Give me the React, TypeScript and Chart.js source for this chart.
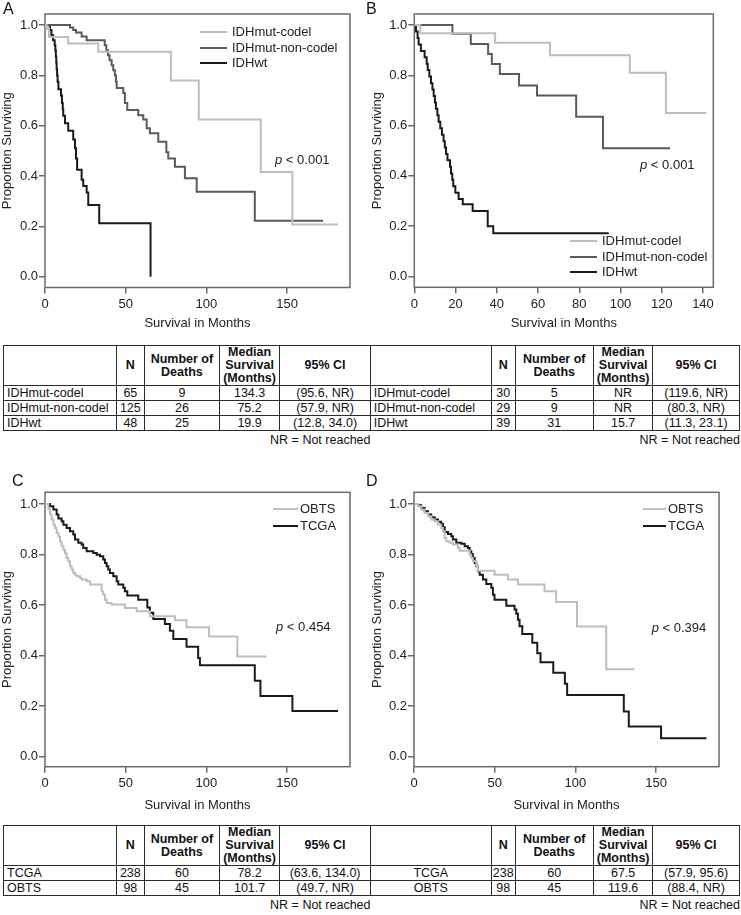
import React, { useEffect, useRef } from "react";
import { Chart, registerables } from "chart.js";
Chart.register(...registerables);

const FONT = '"Liberation Sans", Arial, Helvetica, sans-serif';
const LIGHT = "#bdbdbd";
const DARK = "#5a5a5a";
const BLACK = "#1a1a1a";
const AXIS = "#6a6a6a";
const TEXT = "#222222";

// ---------- Panel A (months, survival) ----------
const A_codel: number[][] = [[0,1],[1,0.985],[2.5,0.953],[14.4,0.927],[33,0.894],[78,0.78],[95.3,0.625],[133.7,0.416],[153.3,0.207],[181.6,0.207]];
const A_noncodel: number[][] = [[0,1],[15.5,0.99],[17.5,0.98],[19.2,0.97],[22.7,0.955],[25.8,0.94],[37,0.92],[38,0.9],[39,0.88],[40,0.86],[41.3,0.84],[42.3,0.82],[43.3,0.8],[44,0.775],[44.4,0.75],[48.5,0.73],[49.5,0.69],[51,0.662],[57.8,0.642],[60.9,0.625],[63,0.59],[65,0.57],[70.2,0.536],[75.2,0.495],[76.4,0.47],[80.5,0.437],[86.7,0.391],[94,0.338],[130,0.222],[172.3,0.222]];
const A_wt: number[][] = [[0,1],[3,0.98],[4,0.96],[5,0.94],[6,0.92],[6.4,0.9],[6.7,0.875],[7,0.85],[7.2,0.825],[7.5,0.8],[7.8,0.775],[8.3,0.745],[9.9,0.72],[10.5,0.69],[11,0.665],[11.3,0.64],[12.4,0.61],[14.4,0.58],[17.5,0.545],[18.6,0.51],[19.2,0.47],[19.9,0.425],[22.7,0.385],[23.7,0.36],[25.8,0.335],[26.8,0.285],[33.6,0.212],[65.4,0]];

// ---------- Panel B ----------
const B_codel: number[][] = [[0,1],[2.9,0.967],[39.2,0.93],[65.8,0.88],[104.5,0.81],[122,0.65],[141.6,0.65]];
const B_noncodel: number[][] = [[0,1],[18.5,0.965],[27.4,0.925],[35.8,0.885],[37.6,0.845],[41.5,0.805],[50.8,0.76],[59.5,0.72],[78.5,0.635],[91.5,0.51],[124,0.51]];
const B_wt: number[][] = [[0,1],[0.8,0.974],[1.6,0.949],[2.1,0.923],[3.2,0.897],[5,0.872],[6,0.846],[6.5,0.821],[7.3,0.795],[8.1,0.769],[8.8,0.744],[9.4,0.718],[10,0.692],[10.5,0.667],[11.2,0.641],[11.8,0.615],[12.6,0.59],[13.4,0.564],[14.2,0.538],[14.8,0.513],[15.4,0.487],[16.1,0.462],[17.3,0.436],[17.8,0.41],[18.4,0.385],[18.9,0.359],[19.9,0.333],[21.5,0.308],[23.5,0.287],[28.3,0.26],[35.6,0.2],[38.3,0.172],[94.3,0.172]];

// ---------- Panel C ----------
const C_obts: number[][] = [[0,1],[2.1,0.978],[3.1,0.958],[4.1,0.938],[5.2,0.918],[6.2,0.905],[7.2,0.885],[8.3,0.871],[9.3,0.851],[10.3,0.832],[11.4,0.819],[12.4,0.805],[13.4,0.786],[14.4,0.773],[15.5,0.753],[16.5,0.74],[17.5,0.727],[18.6,0.72],[19.6,0.714],[21.7,0.707],[22.7,0.701],[25.8,0.694],[27.9,0.681],[35.1,0.654],[36.1,0.641],[37.2,0.621],[38.2,0.608],[41.3,0.602],[49.5,0.588],[56.8,0.575],[65,0.555],[80.5,0.54],[87.7,0.512],[101.7,0.475],[119.2,0.396],[137.2,0.396]];
const C_tcga: number[][] = [[0,1],[3.1,0.991],[5.2,0.978],[7.2,0.958],[8.3,0.942],[10.3,0.931],[11.4,0.918],[13.4,0.905],[15.5,0.892],[17.5,0.879],[18.6,0.859],[20.6,0.846],[22.7,0.839],[23.7,0.826],[25.8,0.813],[29.9,0.806],[32,0.799],[34.1,0.793],[36.1,0.78],[37.2,0.766],[38.2,0.753],[39.2,0.74],[40.2,0.727],[42.3,0.714],[44.4,0.694],[45.4,0.681],[48.5,0.668],[49.5,0.654],[51,0.638],[57.8,0.621],[63.4,0.59],[65,0.569],[67.1,0.545],[74.3,0.525],[77.4,0.498],[79.5,0.465],[87.7,0.435],[94.9,0.39],[96,0.362],[130,0.3],[133.5,0.24],[153.3,0.18],[181.6,0.18]];

// ---------- Panel D ----------
const D_obts: number[][] = [[0,1],[2.5,0.991],[4.5,0.978],[6.6,0.964],[8.7,0.951],[10.7,0.938],[12.8,0.931],[14.9,0.918],[16.9,0.905],[18,0.892],[19,0.865],[20,0.852],[22.1,0.846],[24.1,0.839],[27.2,0.826],[28.3,0.815],[34.5,0.799],[35.5,0.786],[36.5,0.773],[38.6,0.753],[39.6,0.736],[49.9,0.72],[58.2,0.701],[64.4,0.681],[80.9,0.654],[88.1,0.612],[101,0.515],[119.1,0.346],[136.6,0.346]];
const D_tcga: number[][] = [[0,1],[2.5,0.995],[4.5,0.984],[6.6,0.971],[8.7,0.958],[10.7,0.947],[12.8,0.938],[14.9,0.929],[16.9,0.921],[18,0.908],[19,0.889],[21.1,0.881],[23.1,0.872],[24.1,0.859],[26.2,0.846],[29.3,0.842],[31.4,0.832],[33.4,0.826],[34.5,0.813],[35.5,0.802],[36.5,0.786],[37.6,0.766],[38.6,0.753],[39.6,0.734],[40.7,0.72],[42.7,0.701],[44.8,0.683],[47.9,0.668],[48.9,0.641],[49.9,0.621],[57.2,0.597],[62.3,0.582],[63.4,0.565],[64.4,0.542],[65.4,0.516],[67.1,0.485],[73.3,0.451],[76.4,0.409],[78.4,0.373],[86.3,0.332],[93.5,0.288],[94.9,0.244],[130,0.178],[133.1,0.119],[153.1,0.073],[181.2,0.073]];

// ---------- ticks ----------
const yTickValues = [0, 0.2, 0.4, 0.6, 0.8, 1.0];
const xTicks150 = [0, 50, 100, 150];
const xTicks140 = [0, 20, 40, 60, 80, 100, 120, 140];

// ---------- tables ----------
const tableHeader = ["", "N", "Number of|Deaths", "Median|Survival|(Months)", "95% CI"];
const table1Left = [["IDHmut-codel","65","9","134.3","(95.6, NR)"],["IDHmut-non-codel","125","26","75.2","(57.9, NR)"],["IDHwt","48","25","19.9","(12.8, 34.0)"]];
const table1Right = [["IDHmut-codel","30","5","NR","(119.6, NR)"],["IDHmut-non-codel","29","9","NR","(80.3, NR)"],["IDHwt","39","31","15.7","(11.3, 23.1)"]];
const table2Left = [["TCGA","238","60","78.2","(63.6, 134.0)"],["OBTS","98","45","101.7","(49.7, NR)"]];
const table2Right = [["TCGA","238","60","67.5","(57.9, 95.6)"],["OBTS","98","45","119.6","(88.4, NR)"]];
const colWidths = [112.6, 28.5, 74.6, 60.8, 90.2, 121.2, 23.7, 78.4, 59.4, 86.5];

type Series = { label: string; color: string; pts: number[][] };
type PanelSpec = {
  left: number; top: number; width: number; height: number;
  yW: number; xH: number; padTop: number; padRight: number;
  xMax: number; yMin: number; yMax: number; xTicks: number[];
  titlePadB: number; series: Series[];
};

const framePlugin = {
  id: "kmFrame",
  beforeDatasetsDraw(chart: any) {
    const { ctx, chartArea } = chart;
    ctx.save();
    ctx.strokeStyle = AXIS;
    ctx.lineWidth = 1.5;
    ctx.strokeRect(chartArea.left, chartArea.top, chartArea.right - chartArea.left, chartArea.bottom - chartArea.top);
    ctx.restore();
  },
};

function KMPanel({ spec }: { spec: PanelSpec }) {
  const ref = useRef<HTMLCanvasElement>(null);
  useEffect(() => {
    const p = spec;
    const chart = new Chart(ref.current as HTMLCanvasElement, {
      type: "line",
      data: {
        datasets: p.series.map((s) => ({
          label: s.label,
          data: s.pts.map(([x, y]) => ({ x, y })),
          borderColor: s.color,
          borderWidth: 2,
          stepped: "before" as const,
          pointRadius: 0,
          fill: false,
        })),
      },
      options: {
        animation: false,
        responsive: false,
        maintainAspectRatio: false,
        layout: { padding: { top: p.padTop, right: p.padRight, left: 0, bottom: 0 } },
        plugins: { legend: { display: false }, tooltip: { enabled: false } },
        scales: {
          x: {
            type: "linear",
            min: 0,
            max: p.xMax,
            afterBuildTicks: (s: any) => { s.ticks = p.xTicks.map((v) => ({ value: v })); },
            afterFit: (s: any) => { s.height = p.xH; },
            grid: { drawOnChartArea: false, drawTicks: true, tickLength: 6, color: AXIS, lineWidth: 1.5 },
            border: { display: false },
            ticks: { font: { family: FONT, size: 13 }, color: TEXT, padding: 3, maxRotation: 0, autoSkip: false },
            title: { display: true, text: "Survival in Months", font: { family: FONT, size: 13 }, color: TEXT, padding: { top: 0, bottom: p.titlePadB } },
          },
          y: {
            type: "linear",
            min: p.yMin,
            max: p.yMax,
            afterBuildTicks: (s: any) => { s.ticks = yTickValues.map((v) => ({ value: v })); },
            afterFit: (s: any) => { s.width = p.yW; },
            grid: { drawOnChartArea: false, drawTicks: true, tickLength: 6, color: AXIS, lineWidth: 1.5 },
            border: { display: false },
            ticks: { font: { family: FONT, size: 13 }, color: TEXT, padding: 1, callback: (v: any) => Number(v).toFixed(1) },
            title: { display: true, text: "Proportion Surviving", font: { family: FONT, size: 13 }, color: TEXT, padding: { top: 0, bottom: 0 } },
          },
        },
      },
      plugins: [framePlugin],
    } as any);
    return () => chart.destroy();
  }, []);
  return (
    <canvas
      ref={ref}
      width={spec.width}
      height={spec.height}
      style={{ position: "absolute", left: spec.left, top: spec.top, width: spec.width, height: spec.height }}
    />
  );
}

const panelA: PanelSpec = { left: 0, top: 0, width: 370, height: 335, yW: 45, xH: 47.5, padTop: 14, padRight: 20, xMax: 189, yMin: -0.043, yMax: 1.044, xTicks: xTicks150, titlePadB: 4.2,
  series: [{ label: "IDHmut-codel", color: LIGHT, pts: A_codel }, { label: "IDHmut-non-codel", color: DARK, pts: A_noncodel }, { label: "IDHwt", color: BLACK, pts: A_wt }] };
const panelB: PanelSpec = { left: 370, top: 0, width: 371, height: 335, yW: 44.3, xH: 47.7, padTop: 14, padRight: 27.7, xMax: 145, yMin: -0.043, yMax: 1.044, xTicks: xTicks140, titlePadB: 4.2,
  series: [{ label: "IDHmut-codel", color: LIGHT, pts: B_codel }, { label: "IDHmut-non-codel", color: DARK, pts: B_noncodel }, { label: "IDHwt", color: BLACK, pts: B_wt }] };
const panelC: PanelSpec = { left: 0, top: 470, width: 370, height: 345, yW: 45, xH: 48.3, padTop: 22.3, padRight: 20, xMax: 189, yMin: -0.04, yMax: 1.046, xTicks: xTicks150, titlePadB: 2.2,
  series: [{ label: "OBTS", color: LIGHT, pts: C_obts }, { label: "TCGA", color: BLACK, pts: C_tcga }] };
const panelD: PanelSpec = { left: 370, top: 470, width: 371, height: 345, yW: 44, xH: 48.3, padTop: 22.3, padRight: 22, xMax: 189, yMin: -0.04, yMax: 1.046, xTicks: xTicks150, titlePadB: 2.2,
  series: [{ label: "OBTS", color: LIGHT, pts: D_obts }, { label: "TCGA", color: BLACK, pts: D_tcga }] };

function Legend({ x1, x2, tx, ys, series }: { x1: number; x2: number; tx: number; ys: number[]; series: Series[] }) {
  return (
    <>
      {series.map((s, i) => (
        <React.Fragment key={s.label}>
          <div style={{ position: "absolute", left: x1, top: ys[i] - 1, width: x2 - x1, height: 2, background: s.color }} />
          <div style={{ position: "absolute", left: tx, top: ys[i] - 8, height: 16, lineHeight: "16px", fontSize: 13, color: TEXT, whiteSpace: "nowrap" }}>{s.label}</div>
        </React.Fragment>
      ))}
    </>
  );
}

function PText({ x, y, value }: { x: number; y: number; value: string }) {
  return (
    <div style={{ position: "absolute", left: x, top: y - 8, height: 16, lineHeight: "16px", fontSize: 13, color: TEXT, whiteSpace: "nowrap" }}>
      <i>p</i> &lt; {value}
    </div>
  );
}

function PanelLabel({ x, y, text }: { x: number; y: number; text: string }) {
  return <div style={{ position: "absolute", left: x, top: y - 8, height: 16, lineHeight: "16px", fontSize: 16, color: "#111" }}>{text}</div>;
}

const cellBase: React.CSSProperties = { border: "1px solid #2a2a2a", padding: "0 3px", overflow: "hidden", whiteSpace: "nowrap" };
const numCell: React.CSSProperties = { ...cellBase, padding: 0, overflow: "visible" };

function StatsTable({ top, left, right, rightCentered }: { top: number; left: string[][]; right: string[][]; rightCentered: boolean }) {
  const header = [...tableHeader, ...tableHeader];
  return (
    <table style={{ position: "absolute", left: 3, top, width: 736, tableLayout: "fixed", borderCollapse: "collapse", fontSize: 12.5, color: "#111" }}>
      <colgroup>
        {colWidths.map((w, i) => <col key={i} style={{ width: w }} />)}
      </colgroup>
      <tbody>
        <tr style={{ height: 40 }}>
          {header.map((h, i) => (
            <td key={i} style={{ ...cellBase, padding: 0, fontWeight: "bold", textAlign: "center", lineHeight: "13px", whiteSpace: "normal" }}>
              {h.split("|").map((line, j) => <div key={j}>{line}</div>)}
            </td>
          ))}
        </tr>
        {left.map((lr, i) => {
          const rr = right[i];
          return (
            <tr key={i} style={{ height: 15 }}>
              {lr.map((c, j) => (
                <td key={"l" + j} style={{ ...(j === 0 ? cellBase : numCell), lineHeight: "13px", textAlign: j === 0 ? "left" : "center" }}>{c}</td>
              ))}
              {rr.map((c, j) => (
                <td key={"r" + j} style={{ ...(j === 0 ? cellBase : numCell), lineHeight: "13px", textAlign: j === 0 && !rightCentered ? "left" : "center" }}>{c}</td>
              ))}
            </tr>
          );
        })}
      </tbody>
    </table>
  );
}

function Note({ right, y }: { right: number; y: number }) {
  return (
    <div style={{ position: "absolute", left: right - 200, width: 200, top: y - 8, height: 16, lineHeight: "16px", fontSize: 12.5, textAlign: "right", color: "#111" }}>
      NR = Not reached
    </div>
  );
}

export default function App() {
  return (
    <div style={{ position: "absolute", left: 0, top: 0, width: 741, height: 915, background: "#ffffff", fontFamily: FONT, overflow: "hidden" }}>
      <KMPanel spec={panelA} />
      <KMPanel spec={panelB} />
      <KMPanel spec={panelC} />
      <KMPanel spec={panelD} />

      <PanelLabel x={3} y={9} text="A" />
      <PanelLabel x={366} y={9} text="B" />
      <PanelLabel x={12} y={481} text="C" />
      <PanelLabel x={366} y={481} text="D" />

      <Legend x1={200} x2={227} tx={232} ys={[32, 48, 63]} series={panelA.series} />
      <Legend x1={570} x2={597} tx={602} ys={[240.7, 256.7, 271.7]} series={panelB.series} />
      <Legend x1={272.7} x2={298.3} tx={300} ys={[509, 525.7]} series={panelC.series} />
      <Legend x1={642.7} x2={666} tx={668} ys={[509, 525.7]} series={panelD.series} />

      <PText x={275} y={160} value="0.001" />
      <PText x={640} y={165} value="0.001" />
      <PText x={276} y={626.7} value="0.454" />
      <PText x={651.7} y={627.7} value="0.394" />

      <StatsTable top={345} left={table1Left} right={table1Right} rightCentered={false} />
      <Note right={370.5} y={440} />
      <Note right={740} y={440} />

      <StatsTable top={825} left={table2Left} right={table2Right} rightCentered={true} />
      <Note right={370.5} y={905} />
      <Note right={740} y={905} />
    </div>
  );
}
